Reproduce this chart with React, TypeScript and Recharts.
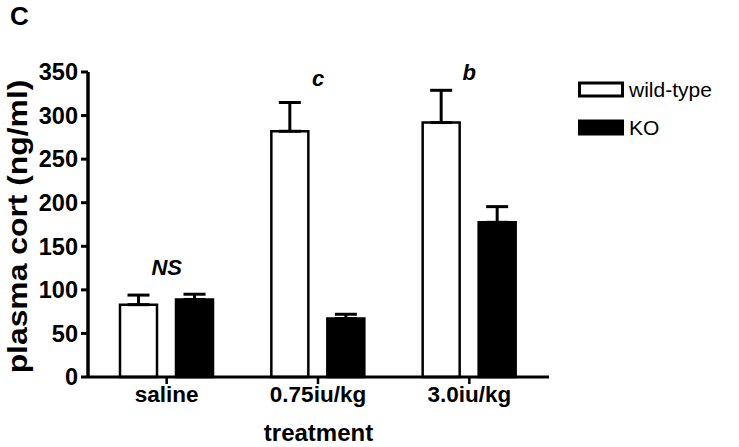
import { BarChart, Bar, XAxis, YAxis, Legend, ErrorBar, ReferenceDot, Label } from 'recharts'

const categories = ['saline', '0.75iu/kg', '3.0iu/kg']
const seriesNames = ['wild-type', 'KO']
const wildType = [83, 282, 292]
const wildTypeErr = [11, 33, 37]
const ko = [89, 67, 177.5]
const koErr = [6, 5, 18]
const marks = ['NS', 'c', 'b']
const markLevel = [126, 342, 349]
const yTicks = [0, 50, 100, 150, 200, 250, 300, 350]

const data = categories.map((name, i) => ({
  name,
  wt: wildType[i],
  wtErr: [0, wildTypeErr[i]],
  ko: ko[i],
  koErr: [0, koErr[i]],
}))

const FONT = '"Liberation Sans", Arial, Helvetica, sans-serif'

function LegendBox({ payload }: { payload?: { value: string; color: string }[] }) {
  if (!payload) return null
  const items = [...payload].sort((a, b) => seriesNames.indexOf(a.value) - seriesNames.indexOf(b.value))
  return (
    <div style={{ fontFamily: FONT, fontSize: 21, color: '#000' }}>
      {items.map((p, i) => (
        <div key={i} style={{ display: 'flex', alignItems: 'center', height: 38 }}>
          <svg width={47} height={18} style={{ marginRight: 4 }}>
            <rect x={1.5} y={2} width={43} height={13} fill={p.color} stroke="#000" strokeWidth={3} />
          </svg>
          <span>{p.value}</span>
        </div>
      ))}
    </div>
  )
}

export default function App() {
  return (
    <div style={{ position: 'absolute', left: 0, top: 0, width: 739, height: 447, background: '#fff' }}>
      <div style={{ position: 'absolute', left: 10, top: 1, fontFamily: FONT, fontWeight: 700, fontSize: 26 }}>C</div>
      <BarChart
        width={739}
        height={447}
        data={data}
        margin={{ top: 72, right: 190, bottom: 0, left: 0 }}
        barSize={37}
        barGap={19}
      >
        <XAxis
          dataKey="name"
          padding={{ left: 3, right: 4 }}
          height={70}
          axisLine={{ stroke: '#000', strokeWidth: 3 }}
          tickLine={{ stroke: '#000', strokeWidth: 2.5 }}
          tickSize={7}
          tickMargin={2}
          tick={{ fill: '#000', fontSize: 22.5, fontWeight: 700, fontFamily: FONT }}
        >
          <Label
            content={({ viewBox }: any) => (
              <text x={viewBox.x + viewBox.width / 2} y={432} textAnchor="middle" dominantBaseline="central"
                fontFamily={FONT} fontWeight={700} fontSize={24} fill="#000">treatment</text>
            )}
          />
        </XAxis>
        <YAxis
          width={88}
          domain={[0, 350]}
          ticks={yTicks}
          interval={0}
          axisLine={{ stroke: '#000', strokeWidth: 3.5 }}
          tickLine={{ stroke: '#000', strokeWidth: 3 }}
          tickSize={7}
          tickMargin={3}
          tick={{ fill: '#000', fontSize: 23.5, fontWeight: 700, fontFamily: FONT }}
        >
          <Label
            content={({ viewBox }: any) => {
              const cy = viewBox.y + viewBox.height / 2 + 2
              return (
                <text x={0} y={0} transform={`translate(17 ${cy}) rotate(-90) scale(1.18 1)`} textAnchor="middle"
                  dominantBaseline="central" fontFamily={FONT} fontWeight={700} fontSize={27} fill="#000">
                  plasma cort (ng/ml)
                </text>
              )
            }}
          />
        </YAxis>
        <Legend
          layout="vertical"
          align="center"
          verticalAlign="middle"
          wrapperStyle={{ left: 578, top: 71, width: 160 }}
          content={<LegendBox />}
        />
        <Bar dataKey="wt" name={seriesNames[0]} fill="#fff" stroke="#000" strokeWidth={2.5} isAnimationActive={false}>
          <ErrorBar dataKey="wtErr" width={11} stroke="#000" strokeWidth={3} isAnimationActive={false} />
        </Bar>
        <Bar dataKey="ko" name={seriesNames[1]} fill="#000" stroke="#000" strokeWidth={2.5} isAnimationActive={false}>
          <ErrorBar dataKey="koErr" width={11} stroke="#000" strokeWidth={3} isAnimationActive={false} />
        </Bar>
        {categories.map((c, i) => (
          <ReferenceDot
            key={c}
            x={c}
            y={markLevel[i]}
            ifOverflow="visible"
            shape={(p: any) => (
              <text x={p.cx} y={p.cy} textAnchor="middle" dominantBaseline="central"
                fontFamily={FONT} fontWeight={700} fontStyle="italic" fontSize={22} fill="#000">{marks[i]}</text>
            )}
          />
        ))}
      </BarChart>
    </div>
  )
}
